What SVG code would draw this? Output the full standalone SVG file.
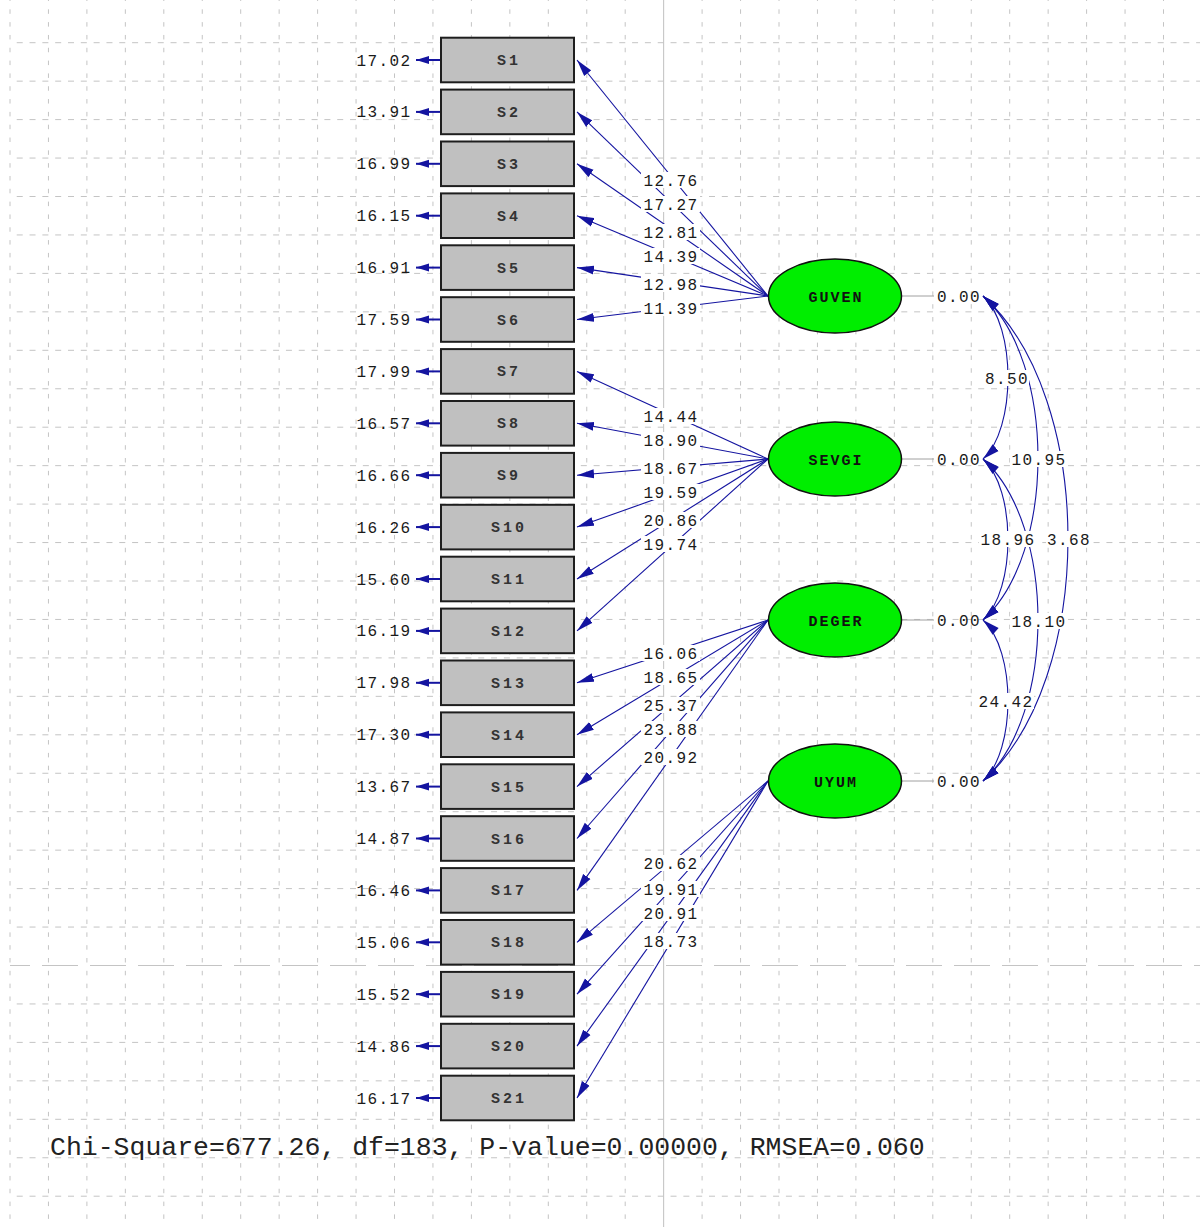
<svg xmlns="http://www.w3.org/2000/svg" width="1200" height="1227" viewBox="0 0 1200 1227">
<style>
.gv{stroke:#c4c4c4;stroke-width:1;stroke-dasharray:4.5 8.32;stroke-dashoffset:3.5}
.gh{stroke:#c4c4c4;stroke-width:1;stroke-dasharray:6 6.82;stroke-dashoffset:6.1}
.p{stroke:#1414a0;stroke-width:1.1;fill:none}
.e{stroke:#1414a0;stroke-width:2;fill:none}
.bx{fill:#c0c0c0;stroke:#1e1e1e;stroke-width:2}
.el{fill:#00ee00;stroke:#111;stroke-width:1.5}
.num{font-family:"Liberation Mono","DejaVu Sans Mono",monospace;font-size:16px;letter-spacing:1.4px;fill:#1a1a1a}
.bl{font-family:"Liberation Mono","DejaVu Sans Mono",monospace;font-size:15px;font-weight:bold;letter-spacing:3px;fill:#333;text-anchor:middle}
.lt{font-family:"Liberation Mono","DejaVu Sans Mono",monospace;font-size:15px;font-weight:bold;letter-spacing:2px;fill:#111;text-anchor:middle}
.bg{fill:#fff}
.gl{stroke:#a0a0a0;stroke-width:1}
.fit{font-family:"Liberation Mono","DejaVu Sans Mono",monospace;font-size:26.5px;fill:#222}
</style>
<defs>
<marker id="ah" markerUnits="userSpaceOnUse" markerWidth="18" markerHeight="10" viewBox="0 0 18 10" refX="17" refY="5" orient="auto"><path d="M0,0.5 L17,5 L0,9.5 z" fill="#1414a0"/></marker>
<marker id="ahr" markerUnits="userSpaceOnUse" markerWidth="18" markerHeight="10" viewBox="0 0 18 10" refX="0" refY="5" orient="auto"><path d="M0,5 L17,0.5 L17,9.5 z" fill="#1414a0"/></marker>
<marker id="ahs" markerUnits="userSpaceOnUse" markerWidth="14" markerHeight="10" viewBox="0 0 14 10" refX="13" refY="5" orient="auto"><path d="M0,1 L13,5 L0,9 z" fill="#1414a0"/></marker>
</defs>
<rect width="1200" height="1227" fill="#fff"/>
<g id="grid">
<line class="gv" x1="10" y1="0" x2="10" y2="1227"/>
<line class="gv" x1="48.45" y1="0" x2="48.45" y2="1227"/>
<line class="gv" x1="86.9" y1="0" x2="86.9" y2="1227"/>
<line class="gv" x1="125.35" y1="0" x2="125.35" y2="1227"/>
<line class="gv" x1="163.8" y1="0" x2="163.8" y2="1227"/>
<line class="gv" x1="202.25" y1="0" x2="202.25" y2="1227"/>
<line class="gv" x1="240.7" y1="0" x2="240.7" y2="1227"/>
<line class="gv" x1="279.15" y1="0" x2="279.15" y2="1227"/>
<line class="gv" x1="317.6" y1="0" x2="317.6" y2="1227"/>
<line class="gv" x1="356.05" y1="0" x2="356.05" y2="1227"/>
<line class="gv" x1="394.5" y1="0" x2="394.5" y2="1227"/>
<line class="gv" x1="432.95" y1="0" x2="432.95" y2="1227"/>
<line class="gv" x1="471.4" y1="0" x2="471.4" y2="1227"/>
<line class="gv" x1="509.85" y1="0" x2="509.85" y2="1227"/>
<line class="gv" x1="548.3" y1="0" x2="548.3" y2="1227"/>
<line class="gv" x1="586.75" y1="0" x2="586.75" y2="1227"/>
<line class="gv" x1="625.2" y1="0" x2="625.2" y2="1227"/>
<line x1="663.65" y1="0" x2="663.65" y2="1227" stroke="#c0c0c0" stroke-width="1"/>
<line class="gv" x1="702.1" y1="0" x2="702.1" y2="1227"/>
<line class="gv" x1="740.55" y1="0" x2="740.55" y2="1227"/>
<line class="gv" x1="779" y1="0" x2="779" y2="1227"/>
<line class="gv" x1="817.45" y1="0" x2="817.45" y2="1227"/>
<line class="gv" x1="855.9" y1="0" x2="855.9" y2="1227"/>
<line class="gv" x1="894.35" y1="0" x2="894.35" y2="1227"/>
<line class="gv" x1="932.8" y1="0" x2="932.8" y2="1227"/>
<line class="gv" x1="971.25" y1="0" x2="971.25" y2="1227"/>
<line class="gv" x1="1009.7" y1="0" x2="1009.7" y2="1227"/>
<line class="gv" x1="1048.15" y1="0" x2="1048.15" y2="1227"/>
<line class="gv" x1="1086.6" y1="0" x2="1086.6" y2="1227"/>
<line class="gv" x1="1125.05" y1="0" x2="1125.05" y2="1227"/>
<line class="gv" x1="1163.5" y1="0" x2="1163.5" y2="1227"/>
<line class="gh" x1="10" y1="42.7" x2="1200" y2="42.7"/>
<line class="gh" x1="10" y1="81.15" x2="1200" y2="81.15"/>
<line class="gh" x1="10" y1="119.6" x2="1200" y2="119.6"/>
<line class="gh" x1="10" y1="158.05" x2="1200" y2="158.05"/>
<line class="gh" x1="10" y1="196.5" x2="1200" y2="196.5"/>
<line class="gh" x1="10" y1="234.95" x2="1200" y2="234.95"/>
<line class="gh" x1="10" y1="273.4" x2="1200" y2="273.4"/>
<line class="gh" x1="10" y1="311.85" x2="1200" y2="311.85"/>
<line class="gh" x1="10" y1="350.3" x2="1200" y2="350.3"/>
<line class="gh" x1="10" y1="388.75" x2="1200" y2="388.75"/>
<line class="gh" x1="10" y1="427.2" x2="1200" y2="427.2"/>
<line class="gh" x1="10" y1="465.65" x2="1200" y2="465.65"/>
<line class="gh" x1="10" y1="504.1" x2="1200" y2="504.1"/>
<line class="gh" x1="10" y1="542.55" x2="1200" y2="542.55"/>
<line class="gh" x1="10" y1="581" x2="1200" y2="581"/>
<line class="gh" x1="10" y1="619.45" x2="1200" y2="619.45"/>
<line class="gh" x1="10" y1="657.9" x2="1200" y2="657.9"/>
<line class="gh" x1="10" y1="696.35" x2="1200" y2="696.35"/>
<line class="gh" x1="10" y1="734.8" x2="1200" y2="734.8"/>
<line class="gh" x1="10" y1="773.25" x2="1200" y2="773.25"/>
<line class="gh" x1="10" y1="811.7" x2="1200" y2="811.7"/>
<line class="gh" x1="10" y1="850.15" x2="1200" y2="850.15"/>
<line class="gh" x1="10" y1="888.6" x2="1200" y2="888.6"/>
<line class="gh" x1="10" y1="927.05" x2="1200" y2="927.05"/>
<line x1="10" y1="965.5" x2="1200" y2="965.5" stroke="#c4c4c4" stroke-width="1" stroke-dasharray="36 12" stroke-dashoffset="16"/>
<line class="gh" x1="10" y1="1003.95" x2="1200" y2="1003.95"/>
<line class="gh" x1="10" y1="1042.4" x2="1200" y2="1042.4"/>
<line class="gh" x1="10" y1="1080.85" x2="1200" y2="1080.85"/>
<line class="gh" x1="10" y1="1119.3" x2="1200" y2="1119.3"/>
<line class="gh" x1="10" y1="1157.75" x2="1200" y2="1157.75"/>
<line class="gh" x1="10" y1="1196.2" x2="1200" y2="1196.2"/>
</g>
<g id="connectors">
<line class="p" x1="768" y1="296" x2="577" y2="60" marker-end="url(#ah)"/>
<line class="p" x1="768" y1="296" x2="577" y2="111.9" marker-end="url(#ah)"/>
<line class="p" x1="768" y1="296" x2="577" y2="163.8" marker-end="url(#ah)"/>
<line class="p" x1="768" y1="296" x2="577" y2="215.7" marker-end="url(#ah)"/>
<line class="p" x1="768" y1="296" x2="577" y2="267.6" marker-end="url(#ah)"/>
<line class="p" x1="768" y1="296" x2="577" y2="319.5" marker-end="url(#ah)"/>
<line class="p" x1="768" y1="459" x2="577" y2="371.4" marker-end="url(#ah)"/>
<line class="p" x1="768" y1="459" x2="577" y2="423.3" marker-end="url(#ah)"/>
<line class="p" x1="768" y1="459" x2="577" y2="475.2" marker-end="url(#ah)"/>
<line class="p" x1="768" y1="459" x2="577" y2="527.1" marker-end="url(#ah)"/>
<line class="p" x1="768" y1="459" x2="577" y2="579" marker-end="url(#ah)"/>
<line class="p" x1="768" y1="459" x2="577" y2="630.9" marker-end="url(#ah)"/>
<line class="p" x1="768" y1="620" x2="577" y2="682.8" marker-end="url(#ah)"/>
<line class="p" x1="768" y1="620" x2="577" y2="734.7" marker-end="url(#ah)"/>
<line class="p" x1="768" y1="620" x2="577" y2="786.6" marker-end="url(#ah)"/>
<line class="p" x1="768" y1="620" x2="577" y2="838.5" marker-end="url(#ah)"/>
<line class="p" x1="768" y1="620" x2="577" y2="890.4" marker-end="url(#ah)"/>
<line class="p" x1="768" y1="781" x2="577" y2="942.3" marker-end="url(#ah)"/>
<line class="p" x1="768" y1="781" x2="577" y2="994.2" marker-end="url(#ah)"/>
<line class="p" x1="768" y1="781" x2="577" y2="1046.1" marker-end="url(#ah)"/>
<line class="p" x1="768" y1="781" x2="577" y2="1098" marker-end="url(#ah)"/>
<path class="p" d="M983,296 C1016.3,326 1016.3,429 983,459" marker-start="url(#ahr)" marker-end="url(#ah)"/>
<path class="p" d="M983,296 C1056.3,362 1056.3,554 983,620" marker-start="url(#ahr)" marker-end="url(#ah)"/>
<path class="p" d="M983,459 C1016.3,489 1016.3,590 983,620" marker-start="url(#ahr)" marker-end="url(#ah)"/>
<path class="p" d="M983,296 C1096.3,398 1096.3,679 983,781" marker-start="url(#ahr)" marker-end="url(#ah)"/>
<path class="p" d="M983,459 C1056.3,525 1056.3,715 983,781" marker-start="url(#ahr)" marker-end="url(#ah)"/>
<path class="p" d="M983,620 C1016.3,650 1016.3,751 983,781" marker-start="url(#ahr)" marker-end="url(#ah)"/>
<line class="e" x1="440" y1="60" x2="416" y2="60" marker-end="url(#ahs)"/>
<line class="e" x1="440" y1="111.9" x2="416" y2="111.9" marker-end="url(#ahs)"/>
<line class="e" x1="440" y1="163.8" x2="416" y2="163.8" marker-end="url(#ahs)"/>
<line class="e" x1="440" y1="215.7" x2="416" y2="215.7" marker-end="url(#ahs)"/>
<line class="e" x1="440" y1="267.6" x2="416" y2="267.6" marker-end="url(#ahs)"/>
<line class="e" x1="440" y1="319.5" x2="416" y2="319.5" marker-end="url(#ahs)"/>
<line class="e" x1="440" y1="371.4" x2="416" y2="371.4" marker-end="url(#ahs)"/>
<line class="e" x1="440" y1="423.3" x2="416" y2="423.3" marker-end="url(#ahs)"/>
<line class="e" x1="440" y1="475.2" x2="416" y2="475.2" marker-end="url(#ahs)"/>
<line class="e" x1="440" y1="527.1" x2="416" y2="527.1" marker-end="url(#ahs)"/>
<line class="e" x1="440" y1="579" x2="416" y2="579" marker-end="url(#ahs)"/>
<line class="e" x1="440" y1="630.9" x2="416" y2="630.9" marker-end="url(#ahs)"/>
<line class="e" x1="440" y1="682.8" x2="416" y2="682.8" marker-end="url(#ahs)"/>
<line class="e" x1="440" y1="734.7" x2="416" y2="734.7" marker-end="url(#ahs)"/>
<line class="e" x1="440" y1="786.6" x2="416" y2="786.6" marker-end="url(#ahs)"/>
<line class="e" x1="440" y1="838.5" x2="416" y2="838.5" marker-end="url(#ahs)"/>
<line class="e" x1="440" y1="890.4" x2="416" y2="890.4" marker-end="url(#ahs)"/>
<line class="e" x1="440" y1="942.3" x2="416" y2="942.3" marker-end="url(#ahs)"/>
<line class="e" x1="440" y1="994.2" x2="416" y2="994.2" marker-end="url(#ahs)"/>
<line class="e" x1="440" y1="1046.1" x2="416" y2="1046.1" marker-end="url(#ahs)"/>
<line class="e" x1="440" y1="1098" x2="416" y2="1098" marker-end="url(#ahs)"/>
<line class="gl" x1="902" y1="296" x2="934" y2="296"/>
<line class="gl" x1="902" y1="459" x2="934" y2="459"/>
<line class="gl" x1="902" y1="620" x2="934" y2="620"/>
<line class="gl" x1="902" y1="781" x2="934" y2="781"/>
</g>
<g id="connector-labels" class="num" text-anchor="middle">
<rect class="bg" x="641" y="172" width="59" height="16"/><text x="671" y="185.5">12.76</text>
<rect class="bg" x="641" y="196" width="59" height="16"/><text x="671" y="209.5">17.27</text>
<rect class="bg" x="641" y="224" width="59" height="16"/><text x="671" y="237.5">12.81</text>
<rect class="bg" x="641" y="248" width="59" height="16"/><text x="671" y="261.5">14.39</text>
<rect class="bg" x="641" y="276" width="59" height="16"/><text x="671" y="289.5">12.98</text>
<rect class="bg" x="641" y="300" width="59" height="16"/><text x="671" y="313.5">11.39</text>
<rect class="bg" x="641" y="408" width="59" height="16"/><text x="671" y="421.5">14.44</text>
<rect class="bg" x="641" y="432" width="59" height="16"/><text x="671" y="445.5">18.90</text>
<rect class="bg" x="641" y="460" width="59" height="16"/><text x="671" y="473.5">18.67</text>
<rect class="bg" x="641" y="484" width="59" height="16"/><text x="671" y="497.5">19.59</text>
<rect class="bg" x="641" y="512" width="59" height="16"/><text x="671" y="525.5">20.86</text>
<rect class="bg" x="641" y="536" width="59" height="16"/><text x="671" y="549.5">19.74</text>
<rect class="bg" x="641" y="645" width="59" height="16"/><text x="671" y="658.5">16.06</text>
<rect class="bg" x="641" y="669" width="59" height="16"/><text x="671" y="682.5">18.65</text>
<rect class="bg" x="641" y="697" width="59" height="16"/><text x="671" y="710.5">25.37</text>
<rect class="bg" x="641" y="721" width="59" height="16"/><text x="671" y="734.5">23.88</text>
<rect class="bg" x="641" y="749" width="59" height="16"/><text x="671" y="762.5">20.92</text>
<rect class="bg" x="641" y="855" width="59" height="16"/><text x="671" y="868.5">20.62</text>
<rect class="bg" x="641" y="881" width="59" height="16"/><text x="671" y="894.5">19.91</text>
<rect class="bg" x="641" y="905" width="59" height="16"/><text x="671" y="918.5">20.91</text>
<rect class="bg" x="641" y="933" width="59" height="16"/><text x="671" y="946.5">18.73</text>
<rect class="bg" x="984" y="370" width="45" height="16"/><text x="1007" y="383.5">8.50</text>
<rect class="bg" x="1010" y="451" width="57" height="16"/><text x="1039" y="464.5">10.95</text>
<rect class="bg" x="979" y="531" width="57" height="16"/><text x="1008" y="544.5">18.96</text>
<rect class="bg" x="1046" y="531" width="45" height="16"/><text x="1069" y="544.5">3.68</text>
<rect class="bg" x="1010" y="613" width="57" height="16"/><text x="1039" y="626.5">18.10</text>
<rect class="bg" x="977" y="693" width="57" height="16"/><text x="1006" y="706.5">24.42</text>
</g>
<g id="S1"><rect class="bx" x="441" y="37.7" width="133" height="44.6"/><text class="bl" x="509" y="65">S1</text><text class="num" x="411.5" y="65.5" text-anchor="end">17.02</text></g>
<g id="S2"><rect class="bx" x="441" y="89.6" width="133" height="44.6"/><text class="bl" x="509" y="116.9">S2</text><text class="num" x="411.5" y="117.4" text-anchor="end">13.91</text></g>
<g id="S3"><rect class="bx" x="441" y="141.5" width="133" height="44.6"/><text class="bl" x="509" y="168.8">S3</text><text class="num" x="411.5" y="169.3" text-anchor="end">16.99</text></g>
<g id="S4"><rect class="bx" x="441" y="193.4" width="133" height="44.6"/><text class="bl" x="509" y="220.7">S4</text><text class="num" x="411.5" y="221.2" text-anchor="end">16.15</text></g>
<g id="S5"><rect class="bx" x="441" y="245.3" width="133" height="44.6"/><text class="bl" x="509" y="272.6">S5</text><text class="num" x="411.5" y="273.1" text-anchor="end">16.91</text></g>
<g id="S6"><rect class="bx" x="441" y="297.2" width="133" height="44.6"/><text class="bl" x="509" y="324.5">S6</text><text class="num" x="411.5" y="325" text-anchor="end">17.59</text></g>
<g id="S7"><rect class="bx" x="441" y="349.1" width="133" height="44.6"/><text class="bl" x="509" y="376.4">S7</text><text class="num" x="411.5" y="376.9" text-anchor="end">17.99</text></g>
<g id="S8"><rect class="bx" x="441" y="401" width="133" height="44.6"/><text class="bl" x="509" y="428.3">S8</text><text class="num" x="411.5" y="428.8" text-anchor="end">16.57</text></g>
<g id="S9"><rect class="bx" x="441" y="452.9" width="133" height="44.6"/><text class="bl" x="509" y="480.2">S9</text><text class="num" x="411.5" y="480.7" text-anchor="end">16.66</text></g>
<g id="S10"><rect class="bx" x="441" y="504.8" width="133" height="44.6"/><text class="bl" x="509" y="532.1">S10</text><text class="num" x="411.5" y="532.6" text-anchor="end">16.26</text></g>
<g id="S11"><rect class="bx" x="441" y="556.7" width="133" height="44.6"/><text class="bl" x="509" y="584">S11</text><text class="num" x="411.5" y="584.5" text-anchor="end">15.60</text></g>
<g id="S12"><rect class="bx" x="441" y="608.6" width="133" height="44.6"/><text class="bl" x="509" y="635.9">S12</text><text class="num" x="411.5" y="636.4" text-anchor="end">16.19</text></g>
<g id="S13"><rect class="bx" x="441" y="660.5" width="133" height="44.6"/><text class="bl" x="509" y="687.8">S13</text><text class="num" x="411.5" y="688.3" text-anchor="end">17.98</text></g>
<g id="S14"><rect class="bx" x="441" y="712.4" width="133" height="44.6"/><text class="bl" x="509" y="739.7">S14</text><text class="num" x="411.5" y="740.2" text-anchor="end">17.30</text></g>
<g id="S15"><rect class="bx" x="441" y="764.3" width="133" height="44.6"/><text class="bl" x="509" y="791.6">S15</text><text class="num" x="411.5" y="792.1" text-anchor="end">13.67</text></g>
<g id="S16"><rect class="bx" x="441" y="816.2" width="133" height="44.6"/><text class="bl" x="509" y="843.5">S16</text><text class="num" x="411.5" y="844" text-anchor="end">14.87</text></g>
<g id="S17"><rect class="bx" x="441" y="868.1" width="133" height="44.6"/><text class="bl" x="509" y="895.4">S17</text><text class="num" x="411.5" y="895.9" text-anchor="end">16.46</text></g>
<g id="S18"><rect class="bx" x="441" y="920" width="133" height="44.6"/><text class="bl" x="509" y="947.3">S18</text><text class="num" x="411.5" y="947.8" text-anchor="end">15.06</text></g>
<g id="S19"><rect class="bx" x="441" y="971.9" width="133" height="44.6"/><text class="bl" x="509" y="999.2">S19</text><text class="num" x="411.5" y="999.7" text-anchor="end">15.52</text></g>
<g id="S20"><rect class="bx" x="441" y="1023.8" width="133" height="44.6"/><text class="bl" x="509" y="1051.1">S20</text><text class="num" x="411.5" y="1051.6" text-anchor="end">14.86</text></g>
<g id="S21"><rect class="bx" x="441" y="1075.7" width="133" height="44.6"/><text class="bl" x="509" y="1103">S21</text><text class="num" x="411.5" y="1103.5" text-anchor="end">16.17</text></g>
<g id="GUVEN"><ellipse class="el" cx="835" cy="296" rx="66.5" ry="37"/><text class="lt" x="836" y="301.5">GUVEN</text><text class="num" x="937" y="301.5">0.00</text></g>
<g id="SEVGI"><ellipse class="el" cx="835" cy="459" rx="66.5" ry="37"/><text class="lt" x="836" y="464.5">SEVGI</text><text class="num" x="937" y="464.5">0.00</text></g>
<g id="DEGER"><ellipse class="el" cx="835" cy="620" rx="66.5" ry="37"/><text class="lt" x="836" y="625.5">DEGER</text><text class="num" x="937" y="625.5">0.00</text></g>
<g id="UYUM"><ellipse class="el" cx="835" cy="781" rx="66.5" ry="37"/><text class="lt" x="836" y="786.5">UYUM</text><text class="num" x="937" y="786.5">0.00</text></g>
<text class="fit" x="50" y="1155">Chi-Square=677.26, df=183, P-value=0.00000, RMSEA=0.060</text>
</svg>
